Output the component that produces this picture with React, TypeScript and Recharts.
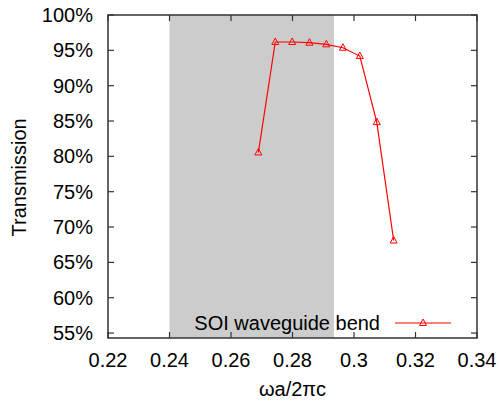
import React from 'react';
import {
    LineChart,
    Line,
    XAxis,
    YAxis,
    ReferenceArea,
} from 'recharts';

// omega a / 2 pi c
const freq = [0.2689, 0.2744, 0.2799, 0.2855, 0.291, 0.2964, 0.3019, 0.3074, 0.3129];
const transmission = [0.8055, 0.9618, 0.9618, 0.9608, 0.9585, 0.9537, 0.9419, 0.8484, 0.6809];
const xTicks = [0.22, 0.24, 0.26, 0.28, 0.3, 0.32, 0.34];
const yTicks = [0.55, 0.6, 0.65, 0.7, 0.75, 0.8, 0.85, 0.9, 0.95, 1.0];
const bandGap = [0.24, 0.2935];
const seriesName = 'SOI waveguide bend';

const data = freq.map((f, i) => ({ f, t: transmission[i] }));

const W = 499;
const H = 403;
const PL = 108;
const PR = 477;
const PT = 15;
const PB = 338;
const FONT = '"Liberation Sans", Arial, sans-serif';
const AXIS = '#333';

const Triangle = (props: any) => {
    const { cx, cy } = props;
    if (cx == null || cy == null) return null;
    return (
        <polygon
            points={`${cx},${cy - 4} ${cx - 3.5},${cy + 2.5} ${cx + 3.5},${cy + 2.5}`}
            fill="none"
            stroke="#ff0000"
            strokeWidth={1}
        />
    );
};

const YTick = (props: any) => {
    const { x, y, payload } = props;
    return (
        <g>
            <line x1={PL} x2={PL + 6} y1={y} y2={y} stroke={AXIS} strokeWidth={1.2} />
            <line x1={PR - 6} x2={PR} y1={y} y2={y} stroke={AXIS} strokeWidth={1.2} />
            <text x={x} y={y + 7} textAnchor="end" fontSize={20} fill="#000" fontFamily={FONT}>
                {`${Math.round(payload.value * 100)}%`}
            </text>
        </g>
    );
};

const XTick = (props: any) => {
    const { x, payload } = props;
    return (
        <g>
            <line x1={x} x2={x} y1={PB} y2={PB - 6} stroke={AXIS} strokeWidth={1.2} />
            <line x1={x} x2={x} y1={PT} y2={PT + 6} stroke={AXIS} strokeWidth={1.2} />
            <text x={x} y={367} textAnchor="middle" fontSize={20} fill="#000" fontFamily={FONT}>
                {String(+payload.value.toFixed(2))}
            </text>
        </g>
    );
};

export default function App() {
    return (
        <div style={{ position: 'relative', width: W, height: H, background: '#fff' }}>
            <style>{'body{margin:0}'}</style>
            <LineChart
                width={W}
                height={H}
                data={data}
                margin={{ top: PT, right: W - PR, left: 0, bottom: 0 }}
            >
                <ReferenceArea
                    x1={bandGap[0]}
                    x2={bandGap[1]}
                    y1={0.543}
                    y2={1}
                    fill="#cccccc"
                    fillOpacity={1}
                    stroke="none"
                    ifOverflow="hidden"
                />
                <XAxis
                    dataKey="f"
                    type="number"
                    domain={[0.22, 0.34]}
                    ticks={xTicks}
                    interval={0}
                    height={H - PB}
                    axisLine={false}
                    tickLine={false}
                    tick={<XTick />}
                    label={{
                        value: 'ωa/2πc',
                        position: 'insideBottom',
                        offset: 7,
                        fontSize: 20,
                        fill: '#000',
                        fontFamily: FONT,
                    }}
                />
                <YAxis
                    type="number"
                    domain={[0.543, 1]}
                    ticks={yTicks}
                    interval={0}
                    width={PL}
                    axisLine={false}
                    tickLine={false}
                    tickSize={0}
                    tickMargin={15}
                    tick={<YTick />}
                    label={{
                        value: 'Transmission',
                        angle: -90,
                        position: 'insideLeft',
                        offset: 19,
                        dy: 60,
                        fontSize: 20,
                        fill: '#000',
                        fontFamily: FONT,
                    }}
                />
                <ReferenceArea
                    x1={0.22}
                    x2={0.34}
                    y1={0.543}
                    y2={1}
                    fill="none"
                    stroke={AXIS}
                    strokeWidth={1.5}
                />
                <Line
                    dataKey="t"
                    name={seriesName}
                    stroke="#ff0000"
                    strokeWidth={1.2}
                    dot={<Triangle />}
                    isAnimationActive={false}
                />
            </LineChart>
            <div
                style={{
                    position: 'absolute',
                    left: 150,
                    top: 310,
                    width: 302,
                    height: 26,
                    display: 'flex',
                    alignItems: 'center',
                    justifyContent: 'flex-end',
                    fontFamily: FONT,
                    fontSize: 20,
                }}
            >
                <span style={{ marginRight: 14 }}>{seriesName}</span>
                <svg width={58} height={12}>
                    <line x1={1} x2={57} y1={6} y2={6} stroke="#ff0000" strokeWidth={1.2} />
                    <Triangle cx={29} cy={6} />
                </svg>
            </div>
        </div>
    );
}
